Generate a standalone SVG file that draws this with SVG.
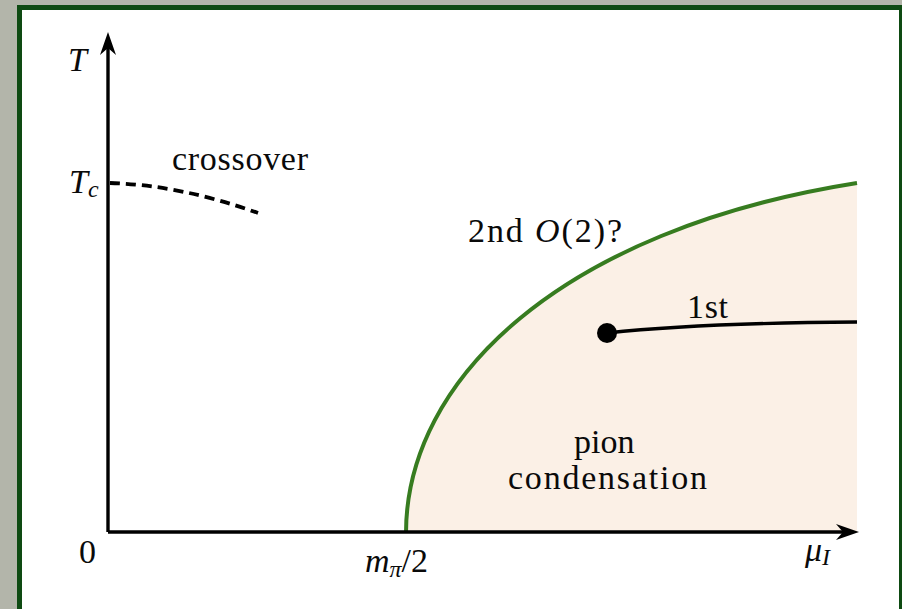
<svg xmlns="http://www.w3.org/2000/svg" width="902" height="609" viewBox="0 0 902 609">
<style>
text{font-family:'Liberation Serif','Times New Roman',serif;font-size:34px;fill:#0a0a0a}
.it{font-style:italic}
.sub{font-size:24px}
.axis{stroke:#000;stroke-width:3.4;fill:none}
.head{fill:#000;stroke:none}
</style>
<rect x="0" y="0" width="902" height="609" fill="#b3b5aa"/>
<rect x="17" y="5" width="890" height="620" fill="#0e4a12"/>
<rect x="22" y="10" width="877" height="610" fill="#ffffff"/>
<g id="region-pion">
<path d="M406,533 C406,380 560,230 857,183 L857,533 Z" fill="#fbf0e6"/>
<text x="574" y="453" font-family="Liberation Serif, serif">pion</text>
<text x="508" y="489" font-family="Liberation Serif, serif" textLength="199" lengthAdjust="spacing">condensation</text>
</g>
<g id="connectors">
<path id="second-order-line" d="M406,533 C406,380 560,230 857,183" fill="none" stroke="#377c20" stroke-width="4"/>
<path id="crossover-line" d="M110,183 Q180,185 258,213" fill="none" stroke="#000" stroke-width="3.8" stroke-dasharray="10,6"/>
<path id="first-order-line" d="M607,333 Q700,323 857,322" fill="none" stroke="#000" stroke-width="3.4"/>
<circle id="critical-point" cx="607" cy="333" r="10" fill="#000"/>
<path id="axis-T" class="axis" d="M108,532 L108,45"/>
<path class="head" d="M108,32 L116,55 L108,48 L100,55 Z"/>
<path id="axis-mu" class="axis" d="M108,532 L846,532"/>
<path class="head" d="M859,532 L836,524 L843,532 L836,540 Z"/>
</g>
<g id="label-T"><text class="it" x="68" y="71" font-family="Liberation Serif, serif">T</text></g>
<g id="label-Tc"><text class="it" x="69" y="193" font-family="Liberation Serif, serif">T<tspan class="sub" dy="4">c</tspan></text></g>
<g id="label-zero"><text x="79" y="563" font-family="Liberation Serif, serif">0</text></g>
<g id="label-crossover"><text x="172" y="170" font-family="Liberation Serif, serif" textLength="136" lengthAdjust="spacing">crossover</text></g>
<g id="label-second"><text x="468" y="242" font-family="Liberation Serif, serif" textLength="154" lengthAdjust="spacing">2nd <tspan class="it">O</tspan>(2)?</text></g>
<g id="label-first"><text x="687" y="318" font-family="Liberation Serif, serif" textLength="41" lengthAdjust="spacing">1st</text></g>
<g id="label-mpi"><text class="it" x="365" y="572" font-family="Liberation Serif, serif">m<tspan class="sub" dy="5">π</tspan><tspan dy="-5" font-style="normal">/2</tspan></text></g>
<g id="label-muI"><text class="it" x="805" y="561" font-family="Liberation Serif, serif">μ<tspan class="sub" dy="4" font-size="26">I</tspan></text></g>
</svg>
